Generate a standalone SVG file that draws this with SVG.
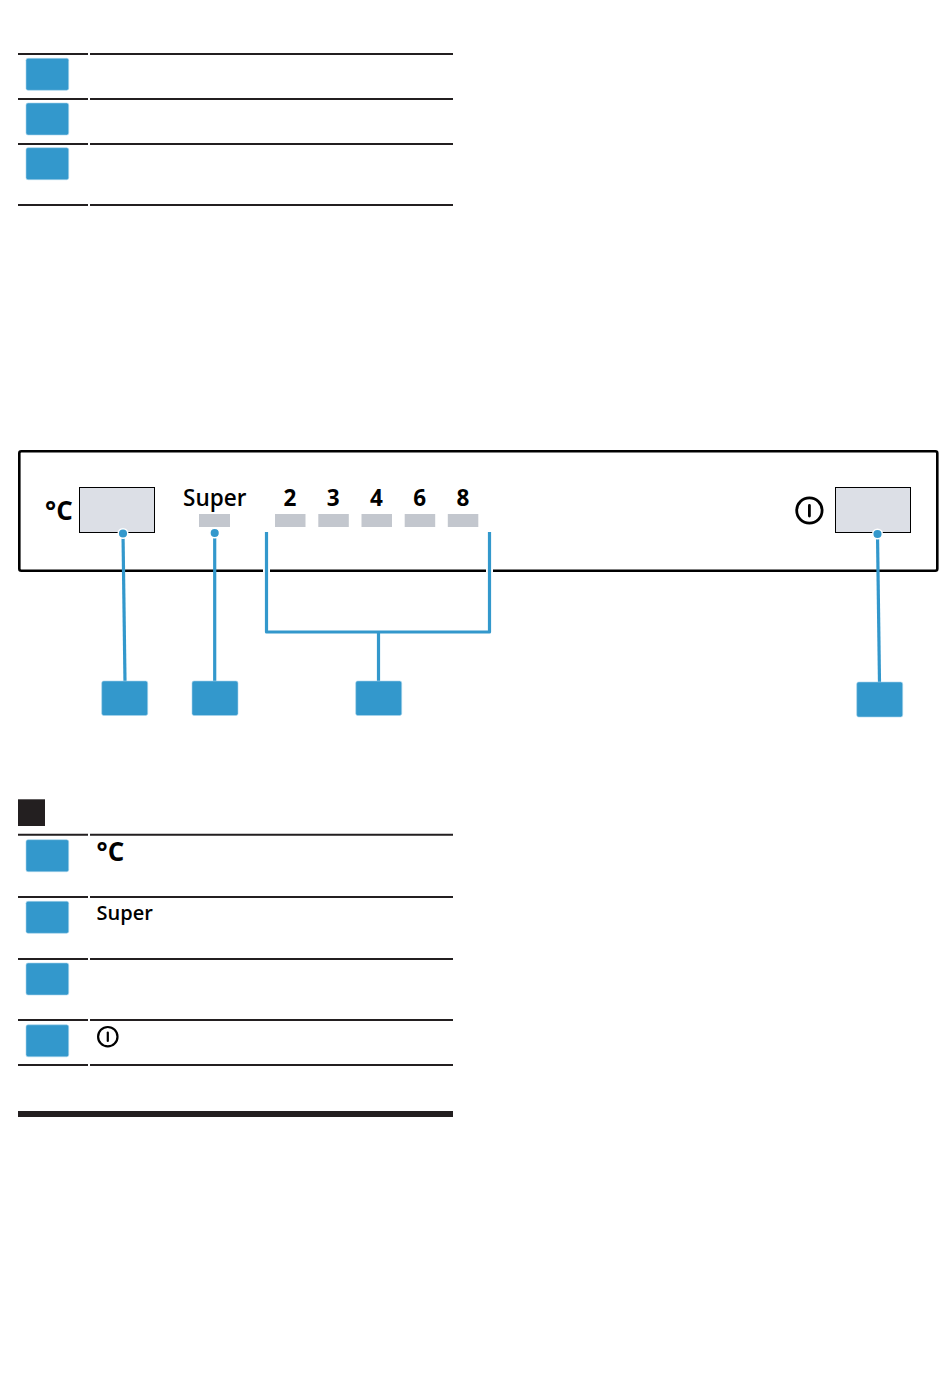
<svg xmlns="http://www.w3.org/2000/svg" width="950" height="1392" viewBox="0 0 950 1392">
<style>
.rule{stroke:#231f20;stroke-width:2;fill:none}
.badge{fill:#3398cc;stroke:#a9d5ec;stroke-width:.6}
.panel{fill:#fff;stroke:#000;stroke-width:2.6}
.display{fill:#dcdfe6;stroke:#000;stroke-width:1}
.led{fill:#c3c7ce}
.t{font-family:"Open Sans","Noto Sans",sans-serif;font-weight:600;fill:#000}
.pl{font-size:22.5px;text-anchor:middle}
.d{font-weight:700}
.deg{font-weight:700;font-size:26px}
.link{fill:none;stroke:#3398cc;stroke-width:3.200}
.halo{fill:none;stroke:#fff;stroke-width:7}
.dot{fill:#3398cc;stroke:#fff;stroke-width:1.500}
.icon{fill:none;stroke:#000;stroke-linecap:round}
</style>
<g id="table-top">
<path class="rule" d="M18 54H88M90 54H453M18 99H88M90 99H453M18 144H88M90 144H453M18 205H88M90 205H453"/>
<rect class="badge" x="26" y="58.300" width="42.700" height="32" rx="2"/>
<rect class="badge" x="26" y="103" width="42.700" height="32" rx="2"/>
<rect class="badge" x="26" y="147.700" width="42.700" height="32" rx="2"/>
</g>
<g id="panel">
<rect class="panel" x="19.300" y="451.300" width="918" height="119.500" rx="2"/>
<text class="t deg" x="45" y="520">°C</text>
</g>
<g id="display-left"><rect class="display" x="79.500" y="487.500" width="75" height="45"/></g>
<g id="super">
<text class="t pl" x="214.700" y="506">Super</text>
<rect class="led" x="199" y="514" width="31" height="13"/>
</g>
<g id="led-2"><text class="t pl d" x="290" y="506">2</text><rect class="led" x="275" y="514" width="30.500" height="13"/></g>
<g id="led-3"><text class="t pl d" x="333.300" y="506">3</text><rect class="led" x="318.300" y="514" width="30.500" height="13"/></g>
<g id="led-4"><text class="t pl d" x="376.500" y="506">4</text><rect class="led" x="361.500" y="514" width="30.500" height="13"/></g>
<g id="led-6"><text class="t pl d" x="419.700" y="506">6</text><rect class="led" x="404.700" y="514" width="30.500" height="13"/></g>
<g id="led-8"><text class="t pl d" x="463" y="506">8</text><rect class="led" x="447.800" y="514" width="30.500" height="13"/></g>
<g id="power">
<circle class="icon" cx="809.400" cy="510.500" r="12.700" stroke-width="2.800"/>
<path class="icon" d="M809.400 505.500V516" stroke-width="2.800"/>
</g>
<g id="display-right"><rect class="display" x="835.500" y="487.500" width="75" height="45"/></g>
<g id="connectors">
<path class="halo" d="M266.500 563V579M489.500 563V579"/>
<path class="link" d="M123 533L125 682"/>
<path class="link" d="M214.700 533V682"/>
<path class="link" stroke-linejoin="round" d="M266.500 532V632H489.500V532"/>
<path class="link" d="M378.500 632V682"/>
<path class="link" d="M877.500 534L879.500 683"/>
<circle class="dot" cx="123" cy="533.500" r="4.800"/>
<circle class="dot" cx="214.700" cy="533" r="4.800"/>
<circle class="dot" cx="877.500" cy="534" r="4.800"/>
</g>
<g id="callout-1"><rect class="badge" x="101.700" y="681" width="46" height="34.500" rx="2"/></g>
<g id="callout-2"><rect class="badge" x="192" y="681" width="46" height="34.500" rx="2"/></g>
<g id="callout-3"><rect class="badge" x="355.700" y="681" width="46" height="34.500" rx="2"/></g>
<g id="callout-4"><rect class="badge" x="856.700" y="682" width="46" height="35" rx="2"/></g>
<g id="table-bottom">
<rect x="18" y="799.300" width="27" height="26.700" fill="#231f20"/>
<path class="rule" d="M18 834.700H88M90 834.700H453M18 897H88M90 897H453M18 959H88M90 959H453M18 1020H88M90 1020H453M18 1065H88M90 1065H453"/>
<rect class="badge" x="26" y="839.700" width="42.700" height="32" rx="2"/>
<rect class="badge" x="26" y="901.300" width="42.700" height="32" rx="2"/>
<rect class="badge" x="26" y="963" width="42.700" height="32" rx="2"/>
<rect class="badge" x="26" y="1024.800" width="42.700" height="32" rx="2"/>
<text class="t deg" x="96.500" y="861">°C</text>
<text class="t" x="96.500" y="919.500" font-size="20">Super</text>
<circle class="icon" cx="107.800" cy="1036.700" r="9.700" stroke-width="2.200"/>
<path class="icon" d="M107.800 1032.500V1041" stroke-width="2.200"/>
<rect x="18" y="1111" width="435" height="6" fill="#231f20"/>
</g>
</svg>
